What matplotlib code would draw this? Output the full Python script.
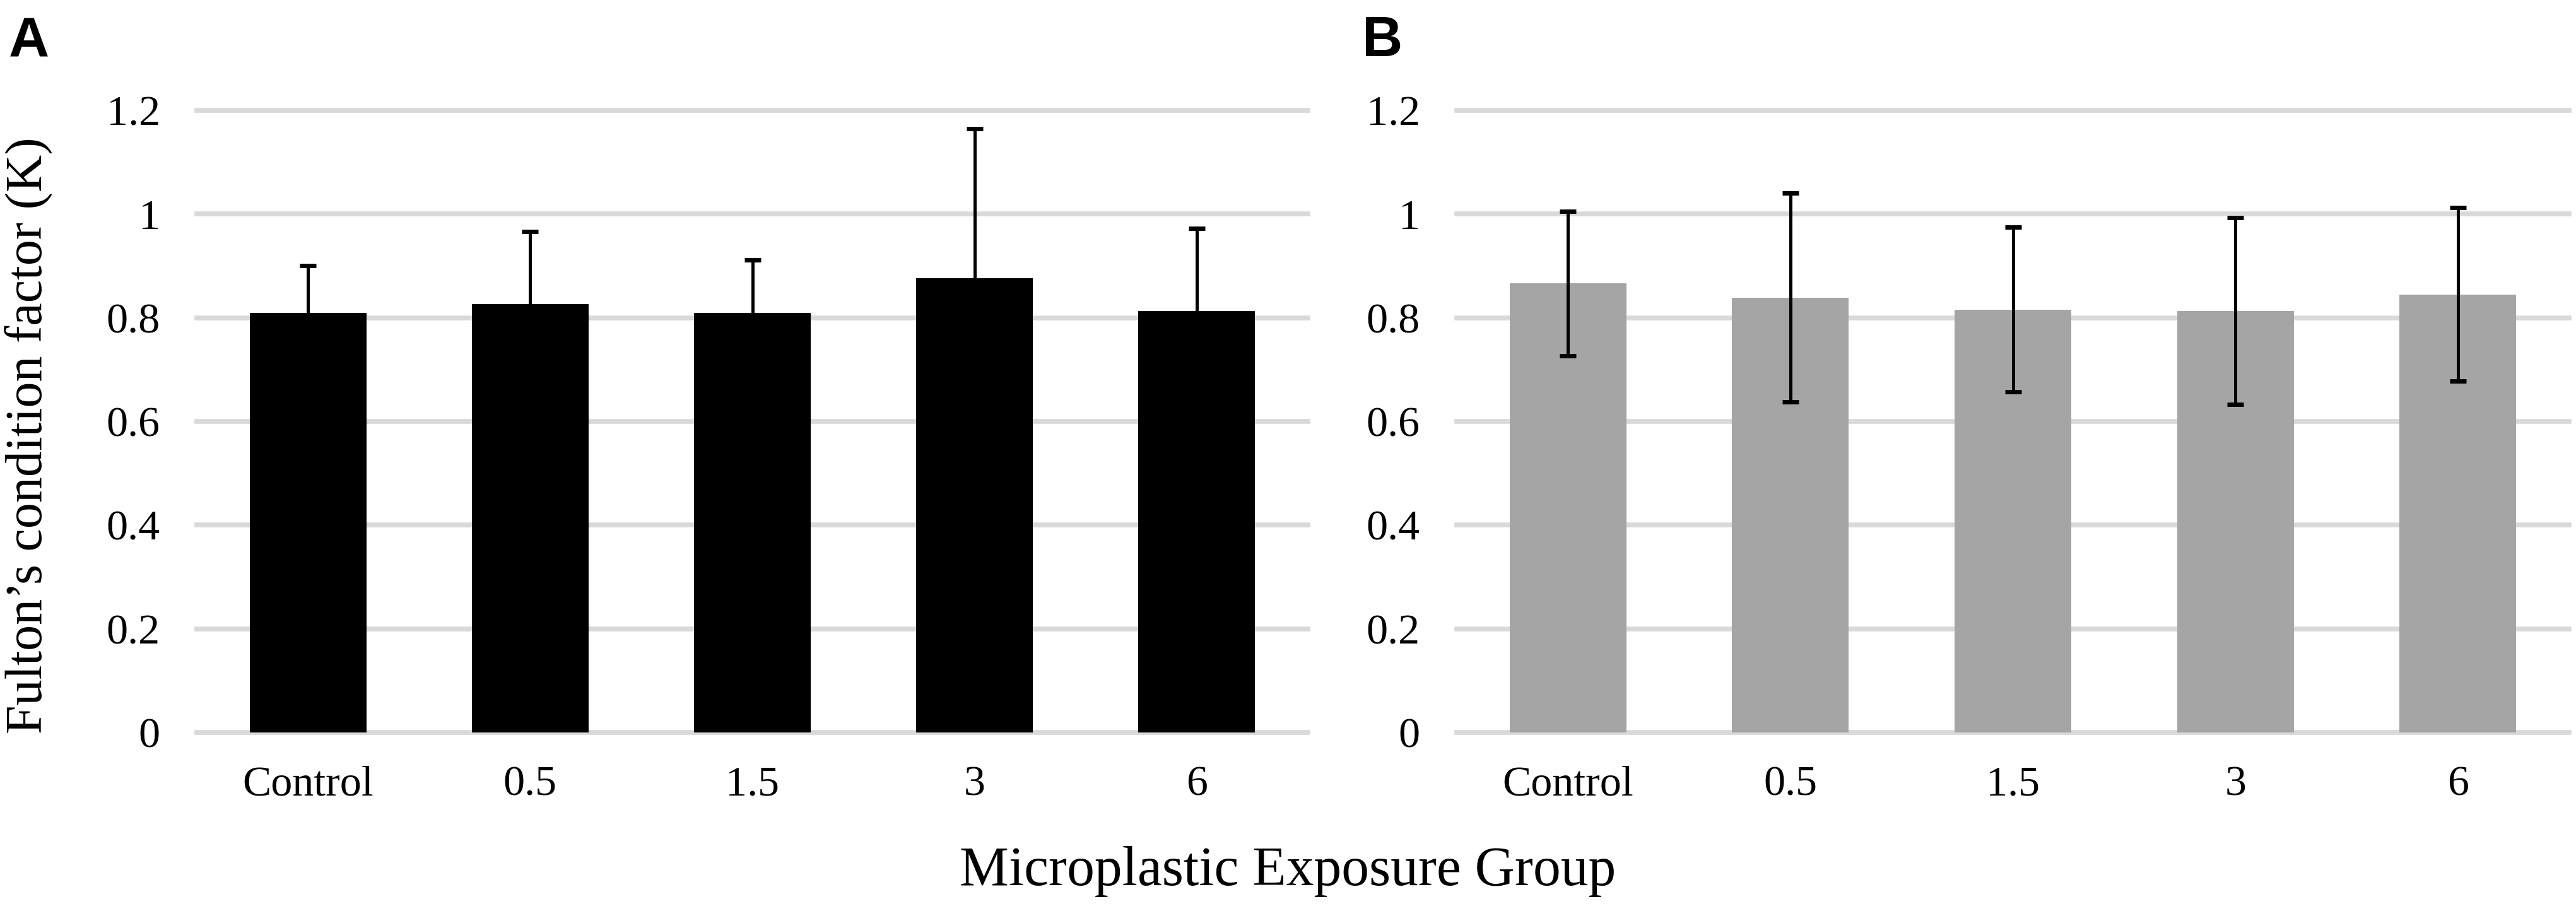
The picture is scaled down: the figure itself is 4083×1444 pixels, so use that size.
import matplotlib.pyplot as plt
import numpy as np
from matplotlib import rcParams

rcParams['font.family'] = ['Liberation Serif', 'DejaVu Serif']

groups = ['Control', '0.5', '1.5', '3', '6']
k_a = [0.809, 0.826, 0.809, 0.876, 0.813]
err_a = [0.091, 0.140, 0.102, 0.289, 0.159]
k_b = [0.866, 0.839, 0.816, 0.813, 0.845]
err_b = [0.139, 0.201, 0.159, 0.180, 0.167]
y_ticks = [0, 0.2, 0.4, 0.6, 0.8, 1.0, 1.2]
y_tick_labels = ['0', '0.2', '0.4', '0.6', '0.8', '1', '1.2']

W, H = 4083, 1444
fig = plt.figure(figsize=(W / 100, H / 100), dpi=100)

ax_a = fig.add_axes([312 / W, 1 - 1161 / H, 1761 / W, 986 / H])
ax_b = fig.add_axes([2309 / W, 1 - 1161 / H, 1763 / W, 986 / H])

x = np.arange(len(groups))
for ax, vals, errs, col in [(ax_a, k_a, err_a, '#000000'), (ax_b, k_b, err_b, '#a5a5a5')]:
    for yt in y_ticks:
        ax.axhline(yt, color='#d9d9d9', linewidth=5.5, clip_on=False, zorder=0)
    ax.bar(x, vals, width=0.525, color=col, zorder=2)
    ax.errorbar(x, vals, yerr=errs, fmt='none', ecolor='black', elinewidth=3.6,
                capsize=9.5, capthick=5, zorder=3)
    ax.set_xlim(-0.5, len(groups) - 0.5)
    ax.set_ylim(0, 1.2)
    ax.set_yticks(y_ticks)
    ax.set_yticklabels(y_tick_labels)
    ax.set_xticks(x)
    ax.set_xticklabels(groups)
    ax.tick_params(axis='both', length=0, labelsize=49)
    ax.tick_params(axis='y', pad=42)
    ax.tick_params(axis='x', pad=38)
    for s in ax.spines.values():
        s.set_visible(False)

fig.text(45 / W, 1 - 690 / H, 'Fulton\u2019s condition factor (K)', rotation=90,
         ha='center', va='center', fontsize=59)
fig.text(2041 / W, 1 - 1382 / H, 'Microplastic Exposure Group',
         ha='center', va='center', fontsize=63)

fig.text(14 / W, 1 - 26 / H, 'A', ha='left', va='top', fontsize=64,
         fontweight='bold', family=['Liberation Sans', 'DejaVu Sans'])
fig.text(2159 / W, 1 - 24 / H, 'B', ha='left', va='top', fontsize=64,
         fontweight='bold', family=['Liberation Sans', 'DejaVu Sans'])

fig.savefig('out.png', dpi=100, facecolor='white')
